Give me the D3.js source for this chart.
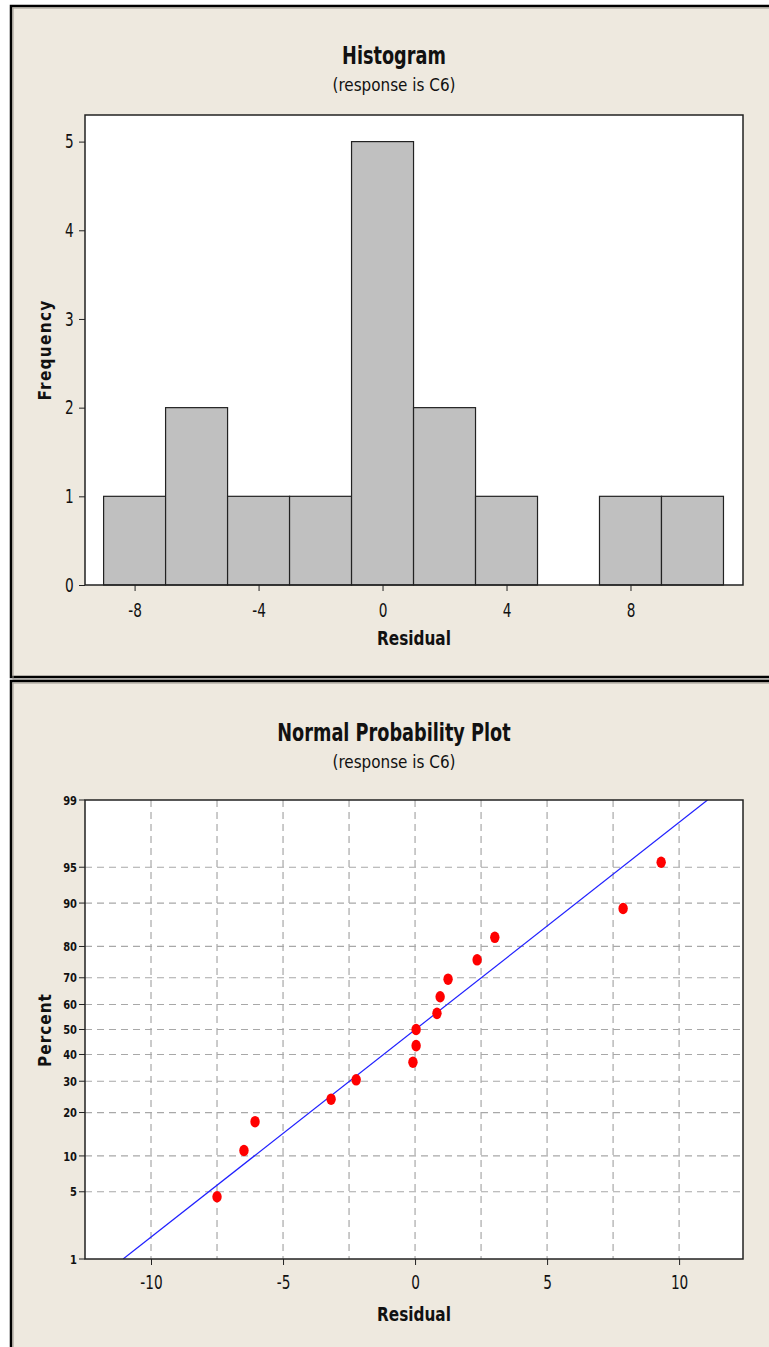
<!DOCTYPE html>
<html>
<head>
<meta charset="utf-8">
<script src="https://cdn.jsdelivr.net/npm/d3@7"></script>
<style>
  body { margin: 0; background: #fff; }
  text { font-family: "DejaVu Sans Condensed", "DejaVu Sans", sans-serif; fill: #111; }
</style>
</head>
<body>
<svg id="chart"></svg>
<script>
// ---- histogram of residuals
const binEdges = [-9, -7, -5, -3, -1, 1, 3, 5, 7, 9, 11];
const binCounts = [1, 2, 1, 1, 5, 2, 1, 0, 1, 1];
const histXTicks = [-8, -4, 0, 4, 8];
const histYTicks = [0, 1, 2, 3, 4, 5];

// ---- normal probability plot
const residuals = [-7.5, -6.48, -6.06, -3.18, -2.23, -0.08, 0.04, 0.04, 0.83, 0.95, 1.25, 2.35, 3.02, 7.88, 9.32];
const percents = [4.5, 11.0, 17.5, 24.0, 30.5, 37.0, 43.5, 50.0, 56.5, 63.0, 69.5, 76.0, 82.5, 89.0, 95.5];
const probYTicks = [1, 5, 10, 20, 30, 40, 50, 60, 70, 80, 90, 95, 99];
const probXTicks = [-10, -5, 0, 5, 10];
const probXGrid = [-10, -7.5, -5, -2.5, 0, 2.5, 5, 7.5, 10];

const W = 769, H = 1347;
const bg = "#eee9df";
const plain = d => String(d);   // hyphen minus like the original, no decimals

const svg = d3.select("#chart")
    .attr("width", W)
    .attr("height", H);

// inverse normal cdf (Acklam)
function probit(p) {
    const a = [-39.69683028665376, 220.9460984245205, -275.9285104469687, 138.3577518672690, -30.66479806614716, 2.506628277459239];
    const b = [-54.47609879822406, 161.5858368580409, -155.6989798598866, 66.80131188771972, -13.28068155288572];
    const c = [-0.007784894002430293, -0.3223964580411365, -2.400758277161838, -2.549732539343734, 4.374664141464968, 2.938163982698783];
    const d = [0.007784695709041462, 0.3224671290700398, 2.445134137142996, 3.754408661907416];
    const pl = 0.02425;
    let q, r;
    if (p < pl) {
        q = Math.sqrt(-2 * Math.log(p));
        return (((((c[0] * q + c[1]) * q + c[2]) * q + c[3]) * q + c[4]) * q + c[5]) / ((((d[0] * q + d[1]) * q + d[2]) * q + d[3]) * q + 1);
    }
    if (p > 1 - pl) {
        q = Math.sqrt(-2 * Math.log(1 - p));
        return -(((((c[0] * q + c[1]) * q + c[2]) * q + c[3]) * q + c[4]) * q + c[5]) / ((((d[0] * q + d[1]) * q + d[2]) * q + d[3]) * q + 1);
    }
    q = p - 0.5; r = q * q;
    return (((((a[0] * r + a[1]) * r + a[2]) * r + a[3]) * r + a[4]) * r + a[5]) * q / (((((b[0] * r + b[1]) * r + b[2]) * r + b[3]) * r + b[4]) * r + 1);
}

function panel(y, h) {
    svg.append("rect")
        .attr("x", 11).attr("y", y)
        .attr("width", 800).attr("height", h)
        .attr("fill", bg)
        .attr("stroke", "#000")
        .attr("stroke-width", 2.5);
    svg.append("rect")
        .attr("x", 13).attr("y", y + 2)
        .attr("width", 800).attr("height", h)
        .attr("fill", "none")
        .attr("stroke", "#9a968e")
        .attr("stroke-width", 1);
}

// condensed tall text, squeezed horizontally
function narrowText(x, y, str, size, sx, weight) {
    svg.append("text")
        .attr("transform", `translate(${x},${y}) scale(${sx},1)`)
        .attr("text-anchor", "middle")
        .attr("font-size", size)
        .attr("font-weight", weight)
        .text(str);
}

function titles(y, title) {
    narrowText(394, y, title, 24, 0.82, "bold");
    narrowText(394, y + 27, "(response is C6)", 18, 0.94, "normal");
}

function styleAxis(g) {
    g.select(".domain").remove();
    g.selectAll("text").attr("font-size", 19).attr("font-family", null)
        .attr("fill", "#1a1a1a")
        .attr("transform", "scale(0.8,1)");
    g.selectAll("line").attr("stroke", "#222");
}

function sideLabel(y, str, spacing) {
    svg.append("text")
        .attr("transform", `translate(51,${y}) rotate(-90)`)
        .attr("text-anchor", "middle")
        .attr("font-family", "DejaVu Sans")
        .attr("font-size", 17)
        .attr("font-weight", "bold")
        .attr("letter-spacing", spacing)
        .text(str);
}

const plotL = 85, plotR = 743;

//////////////////////////////////////////////////////////
// histogram
panel(6, 671);
titles(64, "Histogram");

const hTop = 115, hBot = 585;
const hx = d3.scaleLinear().domain([-9.6, 11.63]).range([plotL, plotR]);
const hy = d3.scaleLinear().domain([0, 5.3]).range([hBot, hTop]);

svg.append("rect")
    .attr("x", plotL).attr("y", hTop)
    .attr("width", plotR - plotL).attr("height", hBot - hTop)
    .attr("fill", "#fff");

svg.append("g")
    .selectAll("rect")
    .data(binCounts.map((c, i) => ({ x0: binEdges[i], x1: binEdges[i + 1], c })))
    .join("rect")
    .filter(d => d.c > 0)
    .attr("x", d => hx(d.x0))
    .attr("y", d => hy(d.c))
    .attr("width", d => hx(d.x1) - hx(d.x0))
    .attr("height", d => hy(0) - hy(d.c))
    .attr("fill", "#c0c0c0")
    .attr("stroke", "#222")
    .attr("stroke-width", 1.2);

svg.append("rect")
    .attr("x", plotL).attr("y", hTop)
    .attr("width", plotR - plotL).attr("height", hBot - hTop)
    .attr("fill", "none")
    .attr("stroke", "#222")
    .attr("stroke-width", 1.5);

svg.append("g")
    .attr("transform", `translate(0,${hBot})`)
    .call(d3.axisBottom(hx).tickValues(histXTicks).tickSize(6).tickPadding(13).tickFormat(plain))
    .call(styleAxis);

svg.append("g")
    .attr("transform", `translate(${plotL},0)`)
    .call(d3.axisLeft(hy).tickValues(histYTicks).tickSize(6).tickPadding(8).tickFormat(plain))
    .call(styleAxis);

narrowText(414, 645, "Residual", 20, 0.85, "bold");
sideLabel(350, "Frequency", 1.3);

//////////////////////////////////////////////////////////
// normal probability plot
panel(681, 700);
titles(741, "Normal Probability Plot");

const pTop = 800, pBot = 1259;
const px = d3.scaleLinear().domain([-12.5, 12.42]).range([plotL, plotR]);
const pz = d3.scaleLinear().domain([probit(0.01), probit(0.99)]).range([pBot, pTop]);
const py = p => pz(probit(p / 100));

svg.append("rect")
    .attr("x", plotL).attr("y", pTop)
    .attr("width", plotR - plotL).attr("height", pBot - pTop)
    .attr("fill", "#fff");

const grid = svg.append("g")
    .attr("stroke", "#a8a8a8")
    .attr("stroke-width", 1.2)
    .attr("stroke-dasharray", "7,5");

grid.selectAll("line.h")
    .data(probYTicks.filter(d => d > 1 && d < 99))
    .join("line")
    .attr("class", "h")
    .attr("x1", plotL).attr("x2", plotR)
    .attr("y1", d => py(d)).attr("y2", d => py(d));

grid.selectAll("line.v")
    .data(probXGrid)
    .join("line")
    .attr("class", "v")
    .attr("x1", d => px(d)).attr("x2", d => px(d))
    .attr("y1", pTop).attr("y2", pBot);

// fitted line from mean and standard deviation
const mu = d3.mean(residuals), sd = d3.deviation(residuals);
svg.append("defs").append("clipPath").attr("id", "pclip")
    .append("rect")
    .attr("x", plotL).attr("y", pTop)
    .attr("width", plotR - plotL).attr("height", pBot - pTop);

svg.append("line")
    .attr("clip-path", "url(#pclip)")
    .attr("x1", px(mu + sd * probit(0.01))).attr("y1", py(1))
    .attr("x2", px(mu + sd * probit(0.99))).attr("y2", py(99))
    .attr("stroke", "#1f1fff")
    .attr("stroke-width", 1.2);

svg.append("g")
    .selectAll("ellipse")
    .data(residuals.map((r, i) => [r, percents[i]]))
    .join("ellipse")
    .attr("cx", d => px(d[0]))
    .attr("cy", d => py(d[1]))
    .attr("rx", 4.7)
    .attr("ry", 5.8)
    .attr("fill", "#ff0000");

svg.append("rect")
    .attr("x", plotL).attr("y", pTop)
    .attr("width", plotR - plotL).attr("height", pBot - pTop)
    .attr("fill", "none")
    .attr("stroke", "#222")
    .attr("stroke-width", 1.5);

svg.append("g")
    .attr("transform", `translate(0,${pBot})`)
    .call(d3.axisBottom(px).tickValues(probXTicks).tickSize(6).tickPadding(11).tickFormat(plain))
    .call(styleAxis);

const yAxis = svg.append("g")
    .attr("transform", `translate(${plotL},0)`);
yAxis.selectAll("line")
    .data(probYTicks)
    .join("line")
    .attr("x1", -6).attr("x2", 0)
    .attr("y1", d => py(d)).attr("y2", d => py(d))
    .attr("stroke", "#222");
yAxis.selectAll("text")
    .data(probYTicks)
    .join("text")
    .attr("transform", d => `translate(-8,${py(d)}) scale(0.85,1)`)
    .attr("dy", "0.36em")
    .attr("text-anchor", "end")
    .attr("font-size", 13)
    .attr("font-weight", "bold")
    .attr("fill", "#333")
    .text(d => d);

narrowText(414, 1321, "Residual", 20, 0.85, "bold");
sideLabel(1030, "Percent", 1);
</script>
</body>
</html>
